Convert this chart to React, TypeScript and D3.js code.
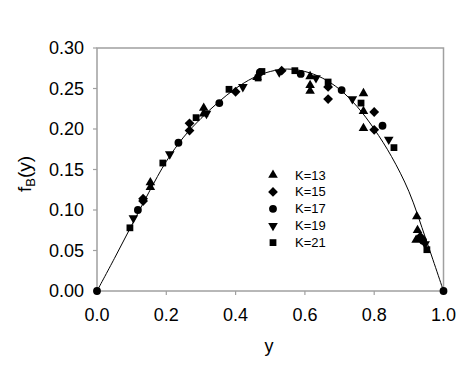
import React from "react";
import * as d3 from "d3";

const width = 471;
const height = 368;
const plot = { left: 97, right: 443.5, top: 48, bottom: 291 };

// fitted curve
const curveX = [0, 0.05, 0.1, 0.15, 0.2, 0.25, 0.3, 0.35, 0.4, 0.45, 0.5, 0.55, 0.6, 0.65, 0.7, 0.75, 0.8, 0.85, 0.9, 0.95, 1.0];
const curveY = [0, 0.04, 0.081, 0.122, 0.16, 0.19, 0.213, 0.233, 0.25, 0.263, 0.271, 0.274, 0.271, 0.263, 0.249, 0.228, 0.2, 0.166, 0.123, 0.063, 0];

// K=13 (triangle up)
const k13X = [0.154, 0.154, 0.308, 0.308, 0.462, 0.615, 0.615, 0.615, 0.769, 0.769, 0.769, 0.923, 0.925, 0.921];
const k13Y = [0.134, 0.128, 0.226, 0.219, 0.264, 0.265, 0.254, 0.247, 0.244, 0.222, 0.201, 0.092, 0.075, 0.063];
// K=15 (diamond)
const k15X = [0.133, 0.133, 0.267, 0.267, 0.4, 0.533, 0.667, 0.667, 0.8, 0.8, 0.933];
const k15Y = [0.114, 0.111, 0.207, 0.198, 0.246, 0.272, 0.252, 0.237, 0.221, 0.199, 0.067];
// K=17 (circle)
const k17X = [0, 0.118, 0.235, 0.353, 0.47, 0.588, 0.706, 0.824, 0.941, 1.0];
const k17Y = [0, 0.1, 0.183, 0.232, 0.27, 0.268, 0.248, 0.204, 0.062, 0];
// K=19 (triangle down)
const k19X = [0.105, 0.21, 0.316, 0.421, 0.526, 0.632, 0.737, 0.842, 0.947];
const k19Y = [0.09, 0.169, 0.219, 0.252, 0.27, 0.263, 0.237, 0.187, 0.058];
// K=21 (square)
const k21X = [0.095, 0.19, 0.286, 0.381, 0.476, 0.465, 0.571, 0.667, 0.762, 0.857, 0.952];
const k21Y = [0.078, 0.158, 0.214, 0.249, 0.271, 0.263, 0.272, 0.258, 0.232, 0.177, 0.051];

const legendLabels = ["K=13", "K=15", "K=17", "K=19", "K=21"];
const xTicks = [0, 0.2, 0.4, 0.6, 0.8, 1.0];
const yTicks = [0, 0.05, 0.1, 0.15, 0.2, 0.25, 0.3];

const triUp = d3.symbol(d3.symbolTriangle, 40)();
const triDown = d3.symbol(d3.symbolTriangle, 40)();
const diamond = d3.symbol(d3.symbolSquare, 48)();
const circle = d3.symbol(d3.symbolCircle, 48)();
const square = d3.symbol(d3.symbolSquare, 46)();

const series = [
  { xs: k13X, ys: k13Y, path: triUp, rot: 0 },
  { xs: k15X, ys: k15Y, path: diamond, rot: 45 },
  { xs: k17X, ys: k17Y, path: circle, rot: 0 },
  { xs: k19X, ys: k19Y, path: triDown, rot: 180 },
  { xs: k21X, ys: k21Y, path: square, rot: 0 }
];

export default function App() {
  const x = d3.scaleLinear().domain([0, 1]).range([plot.left, plot.right]);
  const y = d3.scaleLinear().domain([0, 0.3]).range([plot.bottom, plot.top]);

  const line = d3
    .line<number>()
    .x((d, i) => x(curveX[i]))
    .y(d => y(d))
    .curve(d3.curveCatmullRom);

  const grey = "#a0a0a0";
  const font = "Arial, 'Liberation Sans', sans-serif";

  return (
    <svg
      width={width}
      height={height}
      style={{ position: "absolute", left: 0, top: 0, background: "#fff" }}
      fontFamily={font}
    >
      <rect
        x={plot.left}
        y={plot.top}
        width={plot.right - plot.left}
        height={plot.bottom - plot.top}
        fill="none"
        stroke={grey}
        strokeWidth={1.5}
      />
      {xTicks.map(t => (
        <g key={"x" + t}>
          <line x1={x(t)} x2={x(t)} y1={plot.bottom} y2={plot.bottom + 4} stroke={grey} strokeWidth={1.2} />
          <text x={x(t)} y={plot.bottom + 30} fontSize={18} textAnchor="middle" fill="#000">
            {t.toFixed(1)}
          </text>
        </g>
      ))}
      {yTicks.map(t => (
        <g key={"y" + t}>
          <line x1={plot.left - 4} x2={plot.left} y1={y(t)} y2={y(t)} stroke={grey} strokeWidth={1.2} />
          <text x={84} y={y(t)} fontSize={18} textAnchor="end" dominantBaseline="central" fill="#000">
            {t.toFixed(2)}
          </text>
        </g>
      ))}
      <text x={269} y={352} fontSize={18} textAnchor="middle" fill="#000">
        y
      </text>
      <text transform="translate(31,174) rotate(-90)" fontSize={19} textAnchor="middle" fill="#000">
        f
        <tspan fontSize={13} dy={4}>B</tspan>
        <tspan dy={-4}>(y)</tspan>
      </text>

      <path d={line(curveY) || ""} fill="none" stroke="#000" strokeWidth={1} />

      {series.map((s, si) =>
        s.xs.map((xv, i) => (
          <path
            key={si + "-" + i}
            d={s.path}
            transform={`translate(${x(xv)},${y(s.ys[i])}) rotate(${s.rot})`}
            fill="#000"
          />
        ))
      )}

      {legendLabels.map((lab, i) => {
        const ly = 175 + i * 16.9;
        return (
          <g key={lab}>
            <path d={series[i].path} transform={`translate(273,${ly}) rotate(${series[i].rot})`} fill="#000" />
            <text x={295} y={ly} fontSize={13} dominantBaseline="central" fill="#000">
              {lab}
            </text>
          </g>
        );
      })}
    </svg>
  );
}
